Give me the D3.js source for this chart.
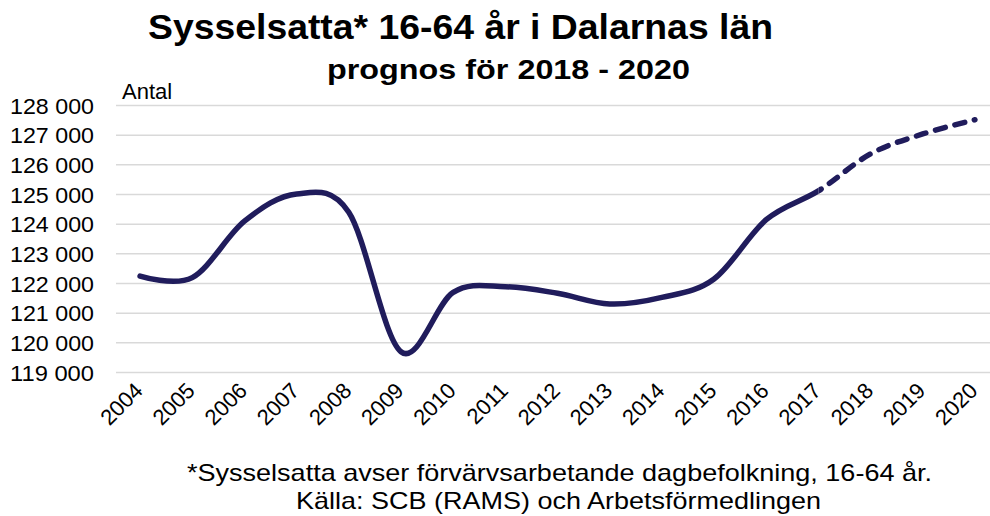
<!DOCTYPE html>
<html>
<head>
<meta charset="utf-8">
<script src="https://cdn.jsdelivr.net/npm/d3@7"></script>
<style>
  body { margin: 0; background: #fff; }
  text { font-family: "Liberation Sans", Arial, sans-serif; fill: #000; }
</style>
</head>
<body>
<div id="chart"></div>
<script>
// Data
const years = ["2004","2005","2006","2007","2008","2009","2010","2011","2012",
               "2013","2014","2015","2016","2017","2018","2019","2020"];
const employed = [122250, 122200, 124100, 125020, 124400, 119700, 121700, 121890, 121670,
                  121310, 121530, 122150, 124150, 125120, 126370, 127040, 127520];
const yTicks = [119000, 120000, 121000, 122000, 123000, 124000, 125000, 126000, 127000, 128000];
const forecastFrom = "2017";

const W = 990, H = 516;
const svg = d3.select("#chart").append("svg")
  .attr("width", W)
  .attr("height", H);

const x = d3.scalePoint().domain(years).range([114, 1001]).padding(0.5);
const y = d3.scaleLinear().domain([119000, 128000]).range([372.5, 105.5]);

// gridlines
svg.append("g")
  .selectAll("line")
  .data(yTicks)
  .enter().append("line")
  .attr("x1", 116)
  .attr("x2", W)
  .attr("y1", d => y(d))
  .attr("y2", d => y(d))
  .attr("stroke", "#d9d9d9")
  .attr("stroke-width", 1.5);

// y labels
const fmt = d => d3.format(",")(d).replace(/,/g, " ");
svg.append("g")
  .selectAll("text")
  .data(yTicks)
  .enter().append("text")
  .attr("x", 94)
  .attr("y", d => y(d) + 8)
  .attr("text-anchor", "end")
  .attr("font-size", 22.5)
  .attr("textLength", 84).attr("lengthAdjust", "spacingAndGlyphs")
  .text(fmt);

// x labels
svg.append("g")
  .selectAll("text")
  .data(years)
  .enter().append("text")
  .attr("transform", d => `translate(${x(d) + 4},${392}) rotate(-45)`)
  .attr("text-anchor", "end")
  .attr("font-size", 22)
  .text(d => d);

// line, one smoothed curve; solid part and dashed forecast are clipped from it
const pts = years.map((d, i) => [x(d), y(employed[i])]);
const line = d3.line().curve(d3.curveCatmullRom.alpha(0));
const xCut = x(forecastFrom);

const defs = svg.append("defs");
defs.append("clipPath").attr("id", "solid")
  .append("rect").attr("x", 0).attr("y", 0).attr("width", xCut).attr("height", H);
defs.append("clipPath").attr("id", "dash")
  .append("rect").attr("x", xCut).attr("y", 0).attr("width", W - xCut).attr("height", H);

svg.append("path")
  .attr("d", line(pts))
  .attr("clip-path", "url(#solid)")
  .attr("fill", "none")
  .attr("stroke", "#201c5c")
  .attr("stroke-width", 5.5)
  .attr("stroke-linecap", "round");

svg.append("path")
  .attr("d", line(pts))
  .attr("clip-path", "url(#dash)")
  .attr("fill", "none")
  .attr("stroke", "#201c5c")
  .attr("stroke-width", 5.5)
  .attr("stroke-linecap", "round")
  .attr("stroke-dasharray", "10,10")
  .attr("stroke-dashoffset", -4);

// titles
svg.append("text")
  .attr("x", 148).attr("y", 38.5)
  .attr("font-size", 35).attr("font-weight", "bold")
  .attr("textLength", 625).attr("lengthAdjust", "spacingAndGlyphs")
  .text("Sysselsatta* 16-64 år i Dalarnas län");

svg.append("text")
  .attr("x", 327).attr("y", 79)
  .attr("font-size", 27).attr("font-weight", "bold")
  .attr("textLength", 363).attr("lengthAdjust", "spacingAndGlyphs")
  .text("prognos för 2018 - 2020");

svg.append("text")
  .attr("x", 122).attr("y", 99)
  .attr("font-size", 22)
  .text("Antal");

svg.append("text")
  .attr("x", 187).attr("y", 481)
  .attr("font-size", 24)
  .attr("textLength", 745).attr("lengthAdjust", "spacingAndGlyphs")
  .text("*Sysselsatta avser förvärvsarbetande dagbefolkning, 16-64 år.");

svg.append("text")
  .attr("x", 296).attr("y", 509)
  .attr("font-size", 24)
  .attr("textLength", 525).attr("lengthAdjust", "spacingAndGlyphs")
  .text("Källa: SCB (RAMS) och Arbetsförmedlingen");
</script>
</body>
</html>
